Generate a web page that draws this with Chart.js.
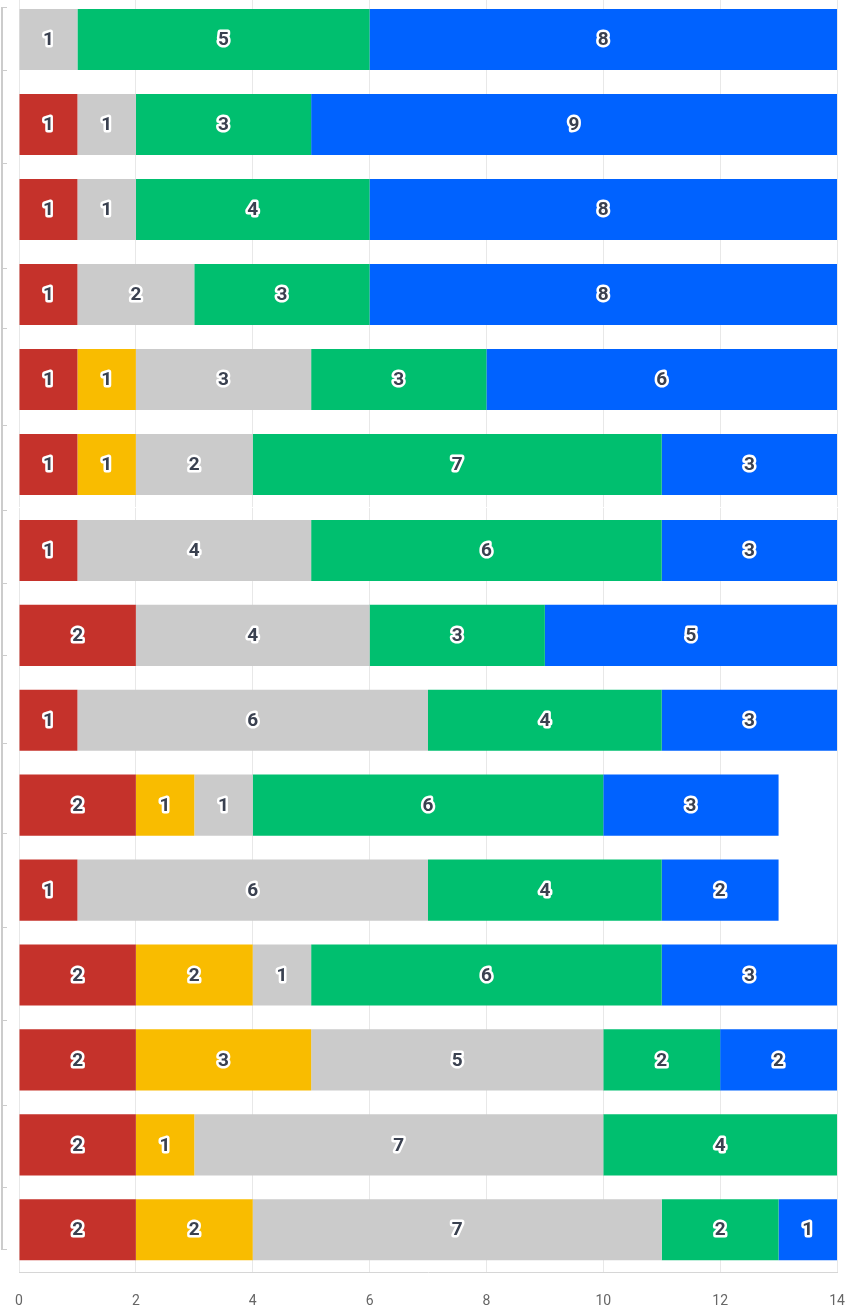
<!DOCTYPE html>
<html lang="en">

<head>
    <meta charset="UTF-8">
    <meta name="viewport" content="width=device-width, initial-scale=1.0">
    <script src="https://cdn.jsdelivr.net/npm/chart.js"></script>
    <title>Stacked Rows</title>
    <style>
        body { margin: 0; background: #fff; }
        #wrap { position: relative; width: 857px; height: 1305px; overflow: hidden; }
        #topChart { position: absolute; left: 0; top: -3px; }
        #bottomChart { position: absolute; left: 0; top: 508px; }
        #bracket { position: absolute; left: 1px; top: 7px; width: 0; height: 1243px; border-left: 2px solid #cccccc; }
        .tick { position: absolute; left: 0; width: 4px; height: 0; border-top: 1px solid #cccccc; }
    </style>
</head>

<body>
    <div id="wrap">
        <div id="bracket"></div>
        <canvas id="topChart" width="857" height="510"></canvas>
        <canvas id="bottomChart" width="857" height="823"></canvas>
    </div>
    <script>
        // Valeurs par ligne, du haut vers le bas
        const topRows = ['A1', 'A2', 'A3', 'A4', 'A5', 'A6'];
        const topRed    = [0, 1, 1, 1, 1, 1];
        const topYellow = [0, 0, 0, 0, 1, 1];
        const topGray   = [1, 1, 1, 2, 3, 2];
        const topGreen  = [5, 3, 4, 3, 3, 7];
        const topBlue   = [8, 9, 8, 8, 6, 3];

        const bottomRows = ['B1', 'B2', 'B3', 'B4', 'B5', 'B6', 'B7', 'B8', 'B9'];
        const bottomRed    = [1, 2, 1, 2, 1, 2, 2, 2, 2];
        const bottomYellow = [0, 0, 0, 1, 0, 2, 3, 1, 2];
        const bottomGray   = [4, 4, 6, 1, 6, 1, 5, 7, 7];
        const bottomGreen  = [6, 3, 4, 6, 4, 6, 2, 4, 2];
        const bottomBlue   = [3, 5, 3, 3, 2, 3, 2, 0, 1];

        const xTicks = [0, 2, 4, 6, 8, 10, 12, 14];

        // Petits traits du support à gauche
        const bracketTicks = [0, 63, 156, 261, 321, 418, 503, 576, 648, 736, 826, 920, 1013, 1098, 1180, 1242];
        const bracket = document.getElementById('bracket');
        bracketTicks.forEach((t) => {
            const d = document.createElement('div');
            d.className = 'tick';
            d.style.top = t + 'px';
            bracket.appendChild(d);
        });

        const colors = ['#c5322b', '#f9bc00', '#cbcbcb', '#00bf6f', '#0062ff'];

        const makeDatasets = (series) => series.map((data, i) => ({
            data: data,
            backgroundColor: colors[i],
            borderWidth: 0,
            barPercentage: 0.9,
            categoryPercentage: 0.8,
        }));

        // Étiquettes de valeur au centre de chaque segment
        const segmentLabels = {
            id: 'segmentLabels',
            afterDatasetsDraw(chart) {
                const ctx = chart.ctx;
                ctx.save();
                ctx.font = 'bold 19px Roboto';
                ctx.textAlign = 'center';
                ctx.textBaseline = 'middle';
                ctx.lineJoin = 'round';
                ctx.lineWidth = 5;
                ctx.strokeStyle = '#ffffff';
                ctx.fillStyle = '#3a4150';
                chart.data.datasets.forEach((ds, i) => {
                    chart.getDatasetMeta(i).data.forEach((bar, j) => {
                        const v = ds.data[j];
                        if (!v) return;
                        const p = bar.getCenterPoint();
                        ctx.strokeText(String(v), p.x, p.y + 1);
                        ctx.fillText(String(v), p.x, p.y + 1);
                    });
                });
                ctx.restore();
            }
        };

        const baseOptions = (showTicks) => ({
            indexAxis: 'y',
            responsive: false,
            animation: false,
            devicePixelRatio: 1,
            layout: { padding: { left: 19, right: 20, top: 0, bottom: 0 } },
            plugins: { legend: { display: false }, tooltip: { enabled: false } },
            scales: {
                x: {
                    type: 'linear',
                    stacked: true,
                    min: 0,
                    max: 14,
                    afterBuildTicks: (axis) => { axis.ticks = xTicks.map((v) => ({ value: v })); },
                    // les libellés 0 et 14 ne doivent pas rétrécir la zone de tracé
                    afterFit: (axis) => { axis.paddingLeft = 0; axis.paddingRight = 0; },
                    grid: { color: '#e8e8e8', drawTicks: false },
                    border: { display: showTicks, color: '#d6d6d6' },
                    ticks: {
                        display: showTicks,
                        padding: 21,
                        color: '#666666',
                        font: { family: 'Roboto', size: 14 },
                    },
                },
                y: {
                    stacked: true,
                    display: false,
                },
            },
        });

        new Chart(document.getElementById('topChart'), {
            type: 'bar',
            data: {
                labels: topRows,
                datasets: makeDatasets([topRed, topYellow, topGray, topGreen, topBlue]),
            },
            options: baseOptions(false),
            plugins: [segmentLabels],
        });

        new Chart(document.getElementById('bottomChart'), {
            type: 'bar',
            data: {
                labels: bottomRows,
                datasets: makeDatasets([bottomRed, bottomYellow, bottomGray, bottomGreen, bottomBlue]),
            },
            options: baseOptions(true),
            plugins: [segmentLabels],
        });
    </script>
</body>

</html>
